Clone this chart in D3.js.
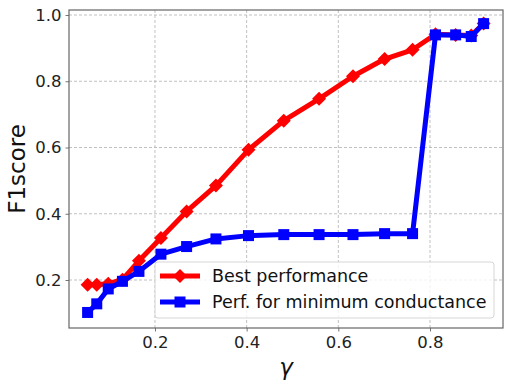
<!DOCTYPE html>
<html>
<head>
<meta charset="utf-8">
<script src="https://cdn.jsdelivr.net/npm/d3@7"></script>
<style>
  html, body { margin: 0; padding: 0; background: #fff; }
  svg { display: block; font-family: "DejaVu Sans", sans-serif; }
</style>
</head>
<body>
<svg id="chart" width="514" height="386"></svg>
<script>
// Valores
const gammaValues = [0.053, 0.073, 0.098, 0.129, 0.165, 0.213, 0.269, 0.333, 0.404,
                     0.481, 0.558, 0.632, 0.701, 0.762, 0.812, 0.856, 0.890, 0.917];
const bestPerf = [0.186, 0.186, 0.189, 0.201, 0.258, 0.327, 0.407, 0.485, 0.593,
                  0.681, 0.747, 0.815, 0.867, 0.895, 0.942, 0.940, 0.938, 0.974];
const minCondPerf = [0.102, 0.128, 0.173, 0.196, 0.226, 0.278, 0.301, 0.324, 0.334,
                     0.337, 0.337, 0.337, 0.340, 0.340, 0.940, 0.940, 0.935, 0.974];
const xTicks = [0.2, 0.4, 0.6, 0.8];
const yTicks = [0.2, 0.4, 0.6, 0.8, 1.0];
const seriesNames = ["Best performance", "Perf. for minimum conductance"];

// Area del grafico
const plot = {left: 69, right: 503, top: 10, bottom: 328};

const svg = d3.select("#chart");

const x = d3.scaleLinear().domain([0.0124, 0.9593]).range([plot.left, plot.right]);
const y = d3.scaleLinear().domain([0.0551, 1.0151]).range([plot.bottom, plot.top]);

// Rejilla
const grid = svg.append("g");
grid.selectAll(".gx").data(xTicks).join("line")
  .attr("x1", d => x(d)).attr("x2", d => x(d))
  .attr("y1", plot.top).attr("y2", plot.bottom)
  .attr("stroke", "#b0b0b0").attr("stroke-width", 0.8).attr("stroke-dasharray", "3,2");
grid.selectAll(".gy").data(yTicks).join("line")
  .attr("y1", d => y(d)).attr("y2", d => y(d))
  .attr("x1", plot.left).attr("x2", plot.right)
  .attr("stroke", "#b0b0b0").attr("stroke-width", 0.8).attr("stroke-dasharray", "3,2");

// Ejes
const xAxis = d3.axisBottom(x).tickValues(xTicks).tickFormat(d3.format(".1f"))
  .tickSize(3.5).tickPadding(5);
const yAxis = d3.axisLeft(y).tickValues(yTicks).tickFormat(d3.format(".1f"))
  .tickSize(3.5).tickPadding(4);

svg.append("g")
  .attr("transform", `translate(0,${plot.bottom})`)
  .call(xAxis)
  .call(g => g.select(".domain").remove())
  .call(g => g.selectAll(".tick line").attr("stroke", "#777"))
  .call(g => g.selectAll(".tick text").attr("fill", "#222").style("font-size", "16.5px")
    .style("font-family", "DejaVu Sans"));

svg.append("g")
  .attr("transform", `translate(${plot.left},0)`)
  .call(yAxis)
  .call(g => g.select(".domain").remove())
  .call(g => g.selectAll(".tick line").attr("stroke", "#777"))
  .call(g => g.selectAll(".tick text").attr("fill", "#222").style("font-size", "16.5px")
    .style("font-family", "DejaVu Sans"));

// Series
const series = [
  {name: seriesNames[0], values: bestPerf, color: "#ff0000", marker: "diamond"},
  {name: seriesNames[1], values: minCondPerf, color: "#0000ff", marker: "square"}
];

const line = d3.line().x(d => x(d[0])).y(d => y(d[1]));

function drawMarker(sel, type, color) {
  if (type === "diamond") {
    sel.append("path").attr("d", "M0,-7L7,0L0,7L-7,0Z").attr("fill", color);
  } else {
    sel.append("rect").attr("x", -5.5).attr("y", -5.5).attr("width", 11).attr("height", 11)
      .attr("fill", color);
  }
}

series.forEach(s => {
  const pts = gammaValues.map((g, i) => [g, s.values[i]]);
  svg.append("path").datum(pts)
    .attr("fill", "none").attr("stroke", s.color).attr("stroke-width", 5)
    .attr("stroke-linejoin", "round").attr("d", line);
  svg.append("g").selectAll("g").data(pts).join("g")
    .attr("transform", d => `translate(${x(d[0])},${y(d[1])})`)
    .each(function() { drawMarker(d3.select(this), s.marker, s.color); });
});

// Marco
svg.append("rect")
  .attr("x", plot.left).attr("y", plot.top)
  .attr("width", plot.right - plot.left).attr("height", plot.bottom - plot.top)
  .attr("fill", "none").attr("stroke", "#666").attr("stroke-width", 1.2);

// Leyenda
const legend = svg.append("g").attr("transform", "translate(155,262)");
legend.append("rect")
  .attr("width", 339).attr("height", 56).attr("rx", 3)
  .attr("fill", "rgba(255,255,255,0.8)").attr("stroke", "#d6d6d6").attr("stroke-width", 1);
series.forEach((s, i) => {
  const row = legend.append("g").attr("transform", `translate(0,${14 + i * 26})`);
  row.append("line").attr("x1", 5).attr("x2", 45).attr("y1", 0).attr("y2", 0)
    .attr("stroke", s.color).attr("stroke-width", 5);
  const m = row.append("g").attr("transform", "translate(25,0)");
  drawMarker(m, s.marker, s.color);
  row.append("text").attr("x", 57).attr("y", 0).attr("dy", "0.35em")
    .attr("fill", "#111").style("font-size", "17.5px").text(s.name);
});

// Titulos de ejes
svg.append("text")
  .attr("transform", `translate(25,${(plot.top + plot.bottom) / 2}) rotate(-90)`)
  .attr("text-anchor", "middle").attr("fill", "#111")
  .style("font-size", "23px").text("F1score");

svg.append("text")
  .attr("x", (plot.left + plot.right) / 2).attr("y", 375)
  .attr("text-anchor", "middle").attr("fill", "#111")
  .style("font-size", "23px").style("font-style", "italic").text("γ");
</script>
</body>
</html>
